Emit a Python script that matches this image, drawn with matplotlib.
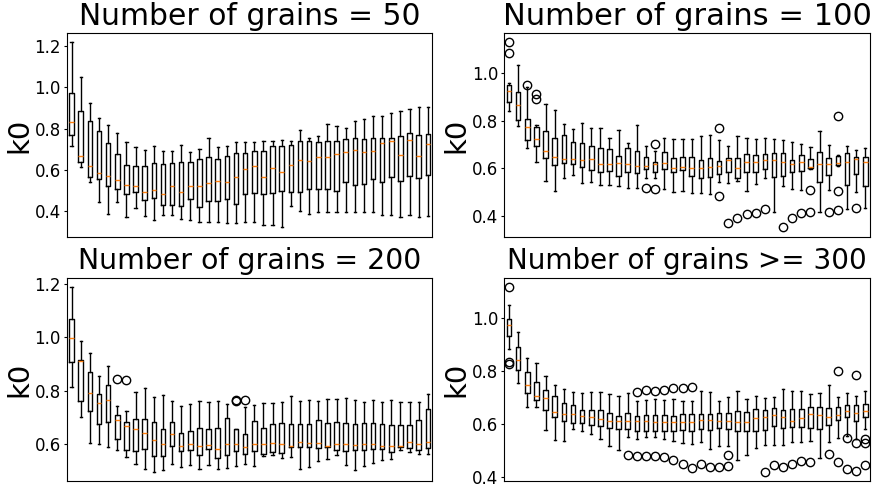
import matplotlib
matplotlib.use('Agg')
import matplotlib.pyplot as plt

titles = ['Number of grains = 50', 'Number of grains = 100',
          'Number of grains = 200', 'Number of grains >= 300']

# ---- Number of grains = 50 ----
hi50 = [1.216, 1.048, 0.923, 0.851, 0.816, 0.781, 0.734, 0.712, 0.699, 0.718,
        0.693, 0.690, 0.723, 0.685, 0.701, 0.757, 0.712, 0.717, 0.736, 0.736,
        0.733, 0.738, 0.738, 0.747, 0.742, 0.792, 0.755, 0.762, 0.822, 0.814,
        0.805, 0.835, 0.846, 0.859, 0.861, 0.877, 0.883, 0.896, 0.906, 0.902]
q3_50 = [0.971, 0.885, 0.838, 0.790, 0.731, 0.678, 0.626, 0.618, 0.619, 0.632,
         0.629, 0.635, 0.638, 0.638, 0.653, 0.662, 0.653, 0.666, 0.683, 0.683,
         0.694, 0.694, 0.714, 0.718, 0.723, 0.738, 0.742, 0.733, 0.738, 0.742,
         0.752, 0.755, 0.752, 0.757, 0.757, 0.757, 0.762, 0.779, 0.770, 0.776]
med50 = [0.832, 0.669, 0.621, 0.587, 0.573, 0.554, 0.526, 0.522, 0.494, 0.504,
         0.485, 0.522, 0.493, 0.522, 0.522, 0.536, 0.546, 0.541, 0.565, 0.603,
         0.619, 0.568, 0.611, 0.592, 0.622, 0.648, 0.642, 0.664, 0.661, 0.675,
         0.688, 0.698, 0.688, 0.694, 0.731, 0.738, 0.672, 0.747, 0.669, 0.725]
q1_50 = [0.768, 0.637, 0.566, 0.557, 0.522, 0.510, 0.483, 0.496, 0.454, 0.464,
         0.430, 0.430, 0.426, 0.458, 0.421, 0.450, 0.450, 0.459, 0.435, 0.483,
         0.491, 0.483, 0.488, 0.501, 0.496, 0.496, 0.510, 0.510, 0.506, 0.501,
         0.541, 0.530, 0.533, 0.555, 0.544, 0.566, 0.549, 0.573, 0.560, 0.576]
lo50 = [0.715, 0.613, 0.541, 0.445, 0.387, 0.445, 0.371, 0.418, 0.378, 0.358,
        0.381, 0.382, 0.363, 0.357, 0.349, 0.349, 0.349, 0.346, 0.346, 0.349,
        0.347, 0.333, 0.333, 0.323, 0.424, 0.400, 0.387, 0.398, 0.395, 0.395,
        0.398, 0.398, 0.398, 0.398, 0.381, 0.381, 0.373, 0.381, 0.373, 0.378]
fl50 = {}

# ---- Number of grains = 100 ----
hi100 = [0.957, 1.036, 0.943, 0.783, 0.868, 0.846, 0.788, 0.766, 0.791, 0.769,
         0.769, 0.729, 0.762, 0.704, 0.783, 0.694, 0.672, 0.726, 0.724, 0.721,
         0.724, 0.734, 0.738, 0.717, 0.695, 0.734, 0.729, 0.721, 0.726, 0.724,
         0.719, 0.709, 0.702, 0.689, 0.756, 0.699, 0.655, 0.692, 0.678, 0.685]
q3_100 = [0.951, 0.921, 0.808, 0.773, 0.756, 0.726, 0.740, 0.709, 0.706, 0.694,
          0.685, 0.679, 0.651, 0.685, 0.674, 0.646, 0.624, 0.669, 0.645, 0.648,
          0.648, 0.634, 0.642, 0.631, 0.645, 0.645, 0.658, 0.655, 0.658, 0.666,
          0.662, 0.634, 0.655, 0.637, 0.669, 0.642, 0.651, 0.666, 0.648, 0.648]
med100 = [0.923, 0.864, 0.773, 0.724, 0.674, 0.649, 0.637, 0.637, 0.633, 0.638,
          0.617, 0.616, 0.620, 0.617, 0.609, 0.610, 0.617, 0.623, 0.602, 0.605,
          0.602, 0.599, 0.605, 0.609, 0.634, 0.602, 0.624, 0.624, 0.634, 0.633,
          0.624, 0.617, 0.624, 0.606, 0.616, 0.616, 0.623, 0.624, 0.637, 0.624]
q1_100 = [0.879, 0.801, 0.717, 0.695, 0.641, 0.614, 0.623, 0.616, 0.603, 0.594,
          0.584, 0.587, 0.566, 0.582, 0.581, 0.596, 0.582, 0.595, 0.582, 0.592,
          0.567, 0.557, 0.562, 0.574, 0.585, 0.557, 0.582, 0.585, 0.596, 0.563,
          0.567, 0.582, 0.588, 0.599, 0.541, 0.571, 0.613, 0.531, 0.574, 0.525]
lo100 = [0.840, 0.777, 0.687, 0.626, 0.548, 0.503, 0.557, 0.571, 0.539, 0.543,
         0.528, 0.528, 0.524, 0.518, 0.518, 0.557, 0.559, 0.511, 0.502, 0.503,
         0.495, 0.495, 0.491, 0.543, 0.536, 0.546, 0.504, 0.534, 0.557, 0.414,
         0.527, 0.514, 0.507, 0.596, 0.414, 0.507, 0.610, 0.429, 0.502, 0.431]
fl100 = {0: [1.129, 1.084], 2: [0.951], 3: [0.912, 0.891], 15: [0.517],
         16: [0.702, 0.514], 23: [0.769, 0.484], 24: [0.370], 25: [0.389],
         26: [0.407], 27: [0.410], 28: [0.428], 30: [0.351], 31: [0.392],
         32: [0.410], 33: [0.507, 0.414], 35: [0.417], 36: [0.818, 0.503, 0.425],
         38: [0.431]}

# ---- Number of grains = 200 ----
hi200 = [1.188, 0.987, 0.941, 0.856, 0.894, 0.744, 0.724, 0.797, 0.809, 0.778,
         0.786, 0.761, 0.745, 0.750, 0.761, 0.757, 0.762, 0.752, 0.659, 0.741,
         0.746, 0.756, 0.756, 0.759, 0.780, 0.761, 0.766, 0.761, 0.771, 0.771,
         0.773, 0.766, 0.759, 0.765, 0.759, 0.765, 0.760, 0.760, 0.760, 0.789]
q3_200 = [1.067, 0.916, 0.870, 0.787, 0.821, 0.709, 0.685, 0.693, 0.696, 0.685,
          0.656, 0.685, 0.644, 0.651, 0.662, 0.656, 0.662, 0.698, 0.656, 0.640,
          0.687, 0.663, 0.675, 0.681, 0.678, 0.678, 0.678, 0.691, 0.681, 0.683,
          0.681, 0.678, 0.681, 0.681, 0.678, 0.672, 0.672, 0.674, 0.691, 0.732]
med200 = [0.997, 0.910, 0.793, 0.755, 0.767, 0.690, 0.670, 0.657, 0.641, 0.617,
          0.601, 0.638, 0.593, 0.600, 0.593, 0.597, 0.582, 0.601, 0.602, 0.591,
          0.600, 0.602, 0.607, 0.600, 0.596, 0.608, 0.606, 0.606, 0.596, 0.600,
          0.603, 0.597, 0.601, 0.601, 0.595, 0.593, 0.593, 0.610, 0.601, 0.608]
q1_200 = [0.909, 0.763, 0.725, 0.676, 0.683, 0.622, 0.581, 0.577, 0.582, 0.555,
          0.555, 0.595, 0.575, 0.579, 0.560, 0.582, 0.550, 0.559, 0.576, 0.564,
          0.576, 0.564, 0.571, 0.567, 0.590, 0.590, 0.592, 0.587, 0.590, 0.581,
          0.576, 0.581, 0.581, 0.582, 0.582, 0.572, 0.590, 0.587, 0.581, 0.587]
lo200 = [0.814, 0.703, 0.604, 0.602, 0.590, 0.580, 0.554, 0.526, 0.507, 0.498,
         0.505, 0.527, 0.517, 0.522, 0.508, 0.522, 0.507, 0.512, 0.518, 0.527,
         0.518, 0.558, 0.560, 0.550, 0.553, 0.509, 0.515, 0.538, 0.545, 0.559,
         0.522, 0.506, 0.518, 0.532, 0.542, 0.547, 0.579, 0.572, 0.565, 0.565]
fl200 = {5: [0.845], 6: [0.840], 18: [0.765, 0.763], 19: [0.765]}

# ---- Number of grains >= 300 ----
hi300 = [1.046, 0.946, 0.847, 0.827, 0.779, 0.747, 0.731, 0.720, 0.716, 0.719,
         0.721, 0.712, 0.706, 0.717, 0.686, 0.688, 0.695, 0.690, 0.694, 0.684,
         0.685, 0.722, 0.719, 0.687, 0.702, 0.725, 0.695, 0.705, 0.696, 0.699,
         0.731, 0.722, 0.725, 0.712, 0.716, 0.747, 0.701, 0.717, 0.705, 0.725]
q3_300 = [0.994, 0.891, 0.794, 0.757, 0.727, 0.704, 0.680, 0.669, 0.652, 0.650,
          0.650, 0.642, 0.630, 0.642, 0.629, 0.632, 0.634, 0.634, 0.630, 0.635,
          0.635, 0.636, 0.636, 0.642, 0.642, 0.649, 0.646, 0.656, 0.652, 0.660,
          0.652, 0.656, 0.655, 0.664, 0.662, 0.661, 0.664, 0.671, 0.669, 0.676]
med300 = [0.971, 0.841, 0.747, 0.705, 0.696, 0.646, 0.635, 0.637, 0.629, 0.627,
          0.616, 0.609, 0.612, 0.612, 0.610, 0.610, 0.607, 0.607, 0.606, 0.605,
          0.606, 0.615, 0.615, 0.612, 0.612, 0.607, 0.605, 0.622, 0.626, 0.634,
          0.627, 0.612, 0.620, 0.637, 0.634, 0.626, 0.634, 0.647, 0.639, 0.649]
q1_300 = [0.931, 0.802, 0.716, 0.690, 0.650, 0.625, 0.609, 0.601, 0.602, 0.596,
          0.591, 0.584, 0.579, 0.580, 0.574, 0.572, 0.572, 0.574, 0.574, 0.578,
          0.572, 0.579, 0.578, 0.584, 0.579, 0.574, 0.574, 0.574, 0.578, 0.590,
          0.584, 0.587, 0.587, 0.584, 0.582, 0.596, 0.615, 0.624, 0.611, 0.625]
lo300 = [0.881, 0.754, 0.664, 0.664, 0.575, 0.539, 0.534, 0.582, 0.574, 0.560,
         0.544, 0.517, 0.500, 0.549, 0.542, 0.549, 0.550, 0.544, 0.535, 0.529,
         0.522, 0.531, 0.504, 0.516, 0.516, 0.462, 0.481, 0.507, 0.521, 0.521,
         0.520, 0.532, 0.532, 0.536, 0.472, 0.531, 0.547, 0.555, 0.541, 0.582]
fl300 = {0: [1.116, 0.832, 0.825], 13: [0.481], 14: [0.721, 0.480],
         15: [0.727, 0.479], 16: [0.725, 0.477], 17: [0.727, 0.475],
         18: [0.734, 0.463], 19: [0.736, 0.450], 20: [0.737, 0.435],
         21: [0.447], 22: [0.437], 23: [0.437], 24: [0.484, 0.440],
         28: [0.419], 29: [0.444], 30: [0.438], 31: [0.447], 32: [0.460],
         33: [0.457], 35: [0.486], 36: [0.800, 0.455], 37: [0.548, 0.428],
         38: [0.784, 0.529, 0.421], 39: [0.544, 0.529, 0.444]}

panels = [(lo50, q1_50, med50, q3_50, hi50, fl50),
          (lo100, q1_100, med100, q3_100, hi100, fl100),
          (lo200, q1_200, med200, q3_200, hi200, fl200),
          (lo300, q1_300, med300, q3_300, hi300, fl300)]
yticks = [[0.4, 0.6, 0.8, 1.0, 1.2], [0.4, 0.6, 0.8, 1.0],
          [0.6, 0.8, 1.0, 1.2], [0.4, 0.6, 0.8, 1.0]]
# the four panels were saved at slightly different scales
title_sizes = [21.4, 22, 20.4, 20]


def box_stats(lo, q1, med, q3, hi, fl):
    out = []
    for i in range(len(med)):
        out.append(dict(whislo=lo[i], q1=q1[i], med=med[i], q3=q3[i],
                        whishi=hi[i], fliers=fl.get(i, [])))
    return out


fig, axes = plt.subplots(2, 2, figsize=(8.76, 4.88), dpi=100)
for ax, title, data, yt, ts in zip(axes.flat, titles, panels, yticks, title_sizes):
    stats = box_stats(*data)
    ax.bxp(stats, showfliers=True)
    ax.set_xlim(0.5, len(stats) + 0.5)
    ax.set_xticks([])
    ax.set_yticks(yt)
    ax.tick_params(axis='y', labelsize=12, length=2.5, pad=2)
    ax.set_title(title, fontsize=ts)
    ax.set_ylabel('k0', fontsize=21, labelpad=1)

fig.subplots_adjust(left=0.0765, right=0.993, bottom=0.0143, top=0.932,
                    wspace=0.197, hspace=0.201)
fig.savefig('out.png')
